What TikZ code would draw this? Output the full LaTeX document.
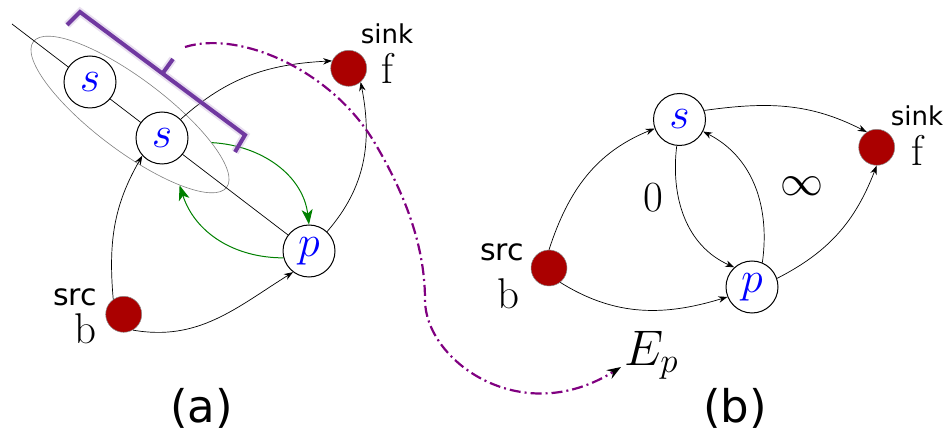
\RequirePackage{fix-cm}
\documentclass[tikz,border=0pt]{standalone}
\usepackage{fontspec}
\setsansfont{DejaVu Sans}
\usetikzlibrary{arrows.meta,positioning,shapes.geometric}
\definecolor{nodeblue}{RGB}{0,0,255}
\definecolor{termred}{RGB}{170,0,0}
\definecolor{grpgreen}{RGB}{0,128,0}
\definecolor{linkpurple}{RGB}{128,0,128}
\definecolor{bracketviolet}{RGB}{112,56,160}
\tikzset{
  vertex/.style={circle,draw,line width=1pt,fill=white,minimum size=52pt,inner sep=0pt,
                 text=nodeblue,font=\fontsize{44}{44}\selectfont},
  terminal/.style={circle,draw=black!45,line width=0.5pt,fill=termred,minimum size=36pt,inner sep=0pt},
  flow/.style={-{Stealth[length=9pt,width=6.5pt]},line width=0.7pt},
  groupflow/.style={-{Stealth[length=15pt,width=11pt,inset=4pt]},line width=1pt,draw=grpgreen},
  srclabel/.style={font=\sffamily\fontsize{30}{30}\selectfont,inner sep=0pt},
  sinklabel/.style={font=\sffamily\fontsize{26}{26}\selectfont,inner sep=0pt},
  letter/.style={font=\fontsize{43}{43}\selectfont,inner sep=0pt},
  panel/.style={font=\sffamily\fontsize{45}{45}\selectfont,inner sep=0pt}
}

\begin{document}
\begin{tikzpicture}[x=1pt,y=-1pt]
  \useasboundingbox (0,0) rectangle (944,435);

  % (a) the pair of s that gets merged
  \coordinate (tail) at (12,24);
  \node[ellipse,draw=gray,line width=0.6pt,minimum width=242pt,minimum height=72pt,
        inner sep=0pt,rotate=-37] (grp) at (130,114.5) {};
  \node[vertex] (pa) at (309,251) {$p$};
  \draw[line width=0.7pt] (tail) -- (pa);
  \node[vertex] (sa1) at (90,82) {$s$};
  \node[vertex] (sa2) at (162,138) {$s$};
  \node[terminal] (ba) at (123.7,314.3) {};
  \node[terminal] (fa) at (348.7,68.3) {};
  \node[srclabel] (srca) at (75,297) {src};
  \node[letter] (bla) at (85.5,329) {b};
  \node[sinklabel] (sinka) at (387,34) {sink};
  \node[letter] (fla) at (387.5,68.5) {f};

  \draw[flow] (ba.125) to[out=95,in=240] (sa2.222);
  \draw[flow] (ba.-60) to[out=-10,in=212] (pa.233);
  \draw[flow] (sa2.45) to[out=42,in=183] (fa.156);
  \draw[flow] (pa.47) to[out=49,in=-79] (fa.-49);
  \draw[groupflow] (grp.18) to[out=-3,in=97] (pa.north);
  \draw[groupflow] (pa.195) to[out=180,in=-72] (grp.-18);

  % bracket over the pair
  \coordinate (hook) at (185,47);
  \draw[bracketviolet,line width=4pt,line join=miter,
        preaction={draw=bracketviolet!45,line width=8pt,opacity=.35}]
    (67,25) -- (80,12) -- (245,135) -- (235,152)
    (162.5,73.5) -- (173,59);

  \node[panel] (capa) at (201.5,408) {(a)};

  % (b) the expanded graph
  \node[vertex] (sb) at (679.5,119.5) {$s$};
  \node[vertex] (pb) at (752,287) {$p$};
  \node[terminal] (bb) at (549,268) {};
  \node[terminal] (fb) at (876.7,147.3) {};
  \node[srclabel] (srcb) at (502,252) {src};
  \node[letter] (blb) at (508,294) {b};
  \node[sinklabel] (sinkb) at (917,116) {sink};
  \node[letter] (flb) at (917,150) {f};

  \draw[flow] (bb.90) to[out=72,in=202] (sb.200);
  \draw[flow] (bb.-52) to[out=-32,in=197] (pb.202);
  \draw[flow] (sb.20) to[out=8,in=153] (fb.123);
  \draw[flow] (sb.-96) to[out=-97,in=156] (pb.132);
  \draw[flow] (pb.67) to[out=82,in=-27] (sb.-27);
  \draw[flow] (pb.19) to[out=27,in=249] (fb.-90);

  \node[letter] (zero) at (653,198) {0};
  \node[letter] (inf) at (802,186) {$\infty$};
  \node[font=\fontsize{50}{50}\selectfont,inner sep=0pt,anchor=base west] (ep) at (624,365) {$E_p$};

  \node[panel] (capb) at (735,408) {(b)};

  % link from the bracket to E_p
  \draw[linkpurple,line width=2.2pt,dash pattern=on 11pt off 4pt on 2pt off 4pt,
        -{Stealth[length=14pt,width=10pt,black]}]
    (hook) .. controls (240,30) and (330,70) .. (373,140)
           .. controls (400,185) and (425,240) .. (425,300)
           .. controls (425,360) and (520,430) .. ([xshift=-3pt,yshift=-2pt]ep.base west);
\end{tikzpicture}
\end{document}
